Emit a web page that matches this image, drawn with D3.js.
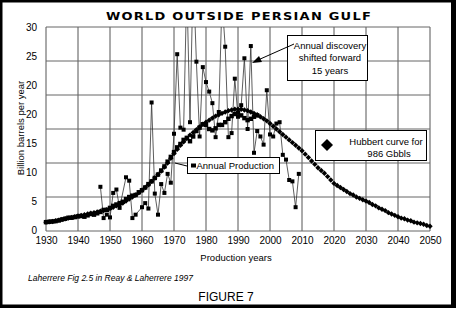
<!DOCTYPE html>
<html>
<head>
<meta charset="utf-8">
<script src="https://cdn.jsdelivr.net/npm/d3@7"></script>
<style>
  body { margin: 0; background: #fff; }
  text { font-family: "Liberation Sans", Arial, sans-serif; fill: #000; }
</style>
</head>
<body>
<div id="svg-chart"></div>
<script>
// Hubbert curve, one value per year 1930..2050 (Gb/yr)
var hubbertStart = 1930;
var hubbertValues = [
  1.3, 1.35, 1.4, 1.5, 1.6, 1.7, 1.8, 1.9, 2.0, 2.1,
  2.2, 2.3, 2.4, 2.5, 2.6, 2.7, 2.8, 2.9, 3.0, 3.15,
  3.3, 3.5, 3.7, 3.9, 4.1, 4.4, 4.7, 5.0, 5.3, 5.6,
  6.0, 6.4, 6.8, 7.3, 7.8, 8.3, 8.8, 9.4, 10.0, 10.7,
  11.4, 12.0, 12.6, 13.1, 13.6, 14.1, 14.5, 14.9, 15.3, 15.7,
  16.0, 16.3, 16.6, 16.9, 17.1, 17.3, 17.5, 17.7, 17.8, 17.9,
  17.9, 17.9, 17.8, 17.7, 17.5, 17.3, 17.1, 16.8, 16.5, 16.2,
  15.8, 15.4, 15.0, 14.6, 14.2, 13.8, 13.4, 13.0, 12.6, 12.2,
  11.8, 11.3, 10.8, 10.3, 9.8, 9.3, 8.9, 8.5, 8.0, 7.5,
  7.0, 6.7, 6.4, 6.1, 5.8, 5.5, 5.3, 5.0, 4.8, 4.6,
  4.4, 4.2, 3.9, 3.7, 3.4, 3.2, 3.0, 2.7, 2.5, 2.3,
  2.1, 1.9, 1.8, 1.6, 1.5, 1.3, 1.2, 1.1, 1.0, 0.8,
  0.7
];

// Annual production, 1930..1996
var prodStart = 1930;
var prodValues = [
  1.3, 1.35, 1.4, 1.45, 1.55, 1.7, 1.8, 1.95, 1.95, 2.05,
  2.15, 2.2, 2.1, 2.3, 2.5, 2.4, 2.6, 2.8, 3.1, 3.1,
  3.4, 3.7, 3.9, 4.1, 4.3, 4.7, 5.0, 5.2, 5.3, 5.7,
  6.0, 6.4, 6.9, 7.3, 7.8, 8.3, 8.9, 9.5, 10.2, 10.9,
  11.6, 12.3, 12.8, 13.4, 13.7, 13.2, 13.9, 14.7, 15.2, 15.7,
  15.6, 15.0, 14.8, 15.1, 15.6, 15.6, 16.0, 16.5, 16.9, 17.2,
  17.4, 17.0, 16.6, 16.3, 16.5, 16.8, 17.0
];

// Annual discovery shifted forward 15 years
var discYears = [
  1947, 1948, 1949, 1950, 1951, 1952, 1953, 1955, 1956, 1957,
  1958, 1960, 1961, 1962, 1963, 1964, 1965, 1966, 1967, 1968,
  1969, 1970, 1971, 1972, 1973, 1974, 1975, 1976, 1977, 1978,
  1979, 1980, 1981, 1982, 1983, 1984, 1985, 1986, 1987, 1988,
  1989, 1990, 1991, 1992, 1993, 1994, 1995, 1996, 1997, 1998,
  1999, 2000, 2001, 2002, 2003, 2004, 2005, 2006, 2007, 2008,
  2009
];
var discValues = [
  6.5, 1.9, 2.4, 2.0, 5.6, 6.1, 3.4, 7.9, 7.4, 1.9,
  2.4, 3.5, 4.1, 3.3, 18.9, 5.5, 2.4, 6.9, 5.6, 8.4,
  7.1, 14.3, 26.0, 15.2, 14.9, 36, 16.0, 38, 24.9, 13.9,
  24.1, 21.9, 20.5, 18.8, 13.8, 17.5, 34, 27.1, 13.8, 14.4,
  22.4, 16.8, 18.5, 25.4, 15.0, 27.2, 11.5, 14.7, 13.9, 12.7,
  20.7, 14.2, 13.9, 15.8, 16.0, 11.2, 10.5, 7.5, 7.3, 3.5,
  8.4
];

var xTicks = [1930, 1940, 1950, 1960, 1970, 1980, 1990, 2000, 2010, 2020, 2030, 2040, 2050];
var yGrid = [0, 5, 10, 15, 20, 25, 30];
// tick labels as printed on the figure (the "20" really appears twice)
var yTickLabels = ["30", "25", "20", "20", "15", "10", "5", "0"];

var svgWidth = 465;
var svgHeight = 309;
var chartMargin = { top: 27, left: 46 };
var chartWidth = 384;
var chartHeight = 204;

var svg = d3.select("#svg-chart")
  .append("svg")
  .attr("width", svgWidth)
  .attr("height", svgHeight);

// frame
svg.append("rect").attr("x", 0).attr("y", 0).attr("width", 456).attr("height", 308).attr("fill", "#000");
svg.append("rect").attr("x", 2.5).attr("y", 2.5).attr("width", 448.5).attr("height", 302).attr("fill", "#fff");

svg.append("text")
  .attr("x", 239)
  .attr("y", 20)
  .attr("text-anchor", "middle")
  .attr("textLength", 266)
  .attr("lengthAdjust", "spacingAndGlyphs")
  .style("font-family", "DejaVu Sans, sans-serif")
  .style("font-size", "10.5px")
  .style("font-weight", "bold")
  .style("letter-spacing", "1px")
  .text("WORLD OUTSIDE PERSIAN GULF");

var chartGroup = svg.append("g")
  .attr("transform", `translate(${chartMargin.left}, ${chartMargin.top})`);

var xScale = d3.scaleLinear().domain([1930, 2050]).range([0, chartWidth]);
var yScale = d3.scaleLinear().domain([0, 30]).range([chartHeight, 0]);

// grid
chartGroup.selectAll(".vgrid")
  .data(xTicks)
  .enter()
  .append("line")
  .attr("x1", d => xScale(d)).attr("x2", d => xScale(d))
  .attr("y1", 0).attr("y2", chartHeight)
  .attr("stroke", "#555")
  .attr("stroke-width", 1);

chartGroup.selectAll(".hgrid")
  .data(yGrid)
  .enter()
  .append("line")
  .attr("x1", 0).attr("x2", chartWidth)
  .attr("y1", d => yScale(d)).attr("y2", d => yScale(d))
  .attr("stroke", "#666")
  .attr("stroke-width", 1);

// axes
var xAxis = d3.axisBottom(xScale).tickValues(xTicks).tickSize(0).tickPadding(6).tickFormat(d3.format("d"));
var xg = chartGroup.append("g")
  .attr("transform", `translate(0, ${chartHeight})`)
  .call(xAxis);
xg.select(".domain").remove();
xg.selectAll("text").style("font-size", "10px").style("font-family", "Liberation Sans, Arial, sans-serif");

var labelScale = d3.scalePoint().domain(d3.range(yTickLabels.length)).range([0, chartHeight - 1]);
var yAxis = d3.axisLeft(labelScale).tickSize(0).tickPadding(9).tickFormat(i => yTickLabels[i]);
var yg = chartGroup.append("g").call(yAxis);
yg.select(".domain").remove();
yg.selectAll("text").style("font-size", "10px").style("font-family", "Liberation Sans, Arial, sans-serif");

// axis titles
svg.append("text")
  .attr("transform", "rotate(-90)")
  .attr("x", -128)
  .attr("y", 24)
  .attr("text-anchor", "middle")
  .style("font-size", "9.5px")
  .text("Billion barrels per year");

svg.append("text")
  .attr("x", 236)
  .attr("y", 261)
  .attr("text-anchor", "middle")
  .style("font-size", "9.5px")
  .text("Production years");

svg.append("text")
  .attr("x", 28)
  .attr("y", 281)
  .style("font-size", "8.5px")
  .style("font-style", "italic")
  .text("Laherrere Fig 2.5 in Reay & Laherrere 1997");

svg.append("text")
  .attr("x", 226)
  .attr("y", 301)
  .attr("text-anchor", "middle")
  .style("font-size", "12px")
  .text("FIGURE 7");

// clip so the discovery spikes stop at 30
chartGroup.append("clipPath").attr("id", "plotclip")
  .append("rect").attr("x", -3).attr("y", 0).attr("width", chartWidth + 6).attr("height", chartHeight + 3);

var plot = chartGroup.append("g").attr("clip-path", "url(#plotclip)");

// discovery series
var discData = discYears.map((y, i) => ({ year: y, value: discValues[i] }));
var discLine = d3.line().x(d => xScale(d.year)).y(d => yScale(d.value));
plot.append("path")
  .datum(discData)
  .attr("d", discLine)
  .attr("fill", "none")
  .attr("stroke", "#333")
  .attr("stroke-width", 0.8);
plot.selectAll(".disc")
  .data(discData)
  .enter()
  .append("rect")
  .attr("x", d => xScale(d.year) - 2)
  .attr("y", d => yScale(d.value) - 2)
  .attr("width", 4).attr("height", 4)
  .attr("fill", "#000");

// annual production
var prodData = prodValues.map((v, i) => ({ year: prodStart + i, value: v }));
plot.append("path")
  .datum(prodData)
  .attr("d", discLine)
  .attr("fill", "none")
  .attr("stroke", "#000")
  .attr("stroke-width", 1);
plot.selectAll(".prod")
  .data(prodData)
  .enter()
  .append("rect")
  .attr("x", d => xScale(d.year) - 2.2)
  .attr("y", d => yScale(d.value) - 2.2)
  .attr("width", 4.4).attr("height", 4.4)
  .attr("fill", "#000");

// hubbert diamonds
var hubData = hubbertValues.map((v, i) => ({ year: hubbertStart + i, value: v }));
plot.selectAll(".hub")
  .data(hubData)
  .enter()
  .append("path")
  .attr("transform", d => `translate(${xScale(d.year)}, ${yScale(d.value)})`)
  .attr("d", "M0,-2.7L2.7,0L0,2.7L-2.7,0Z")
  .attr("fill", "#000");

// legend: discovery
svg.append("line")
  .attr("x1", 294).attr("y1", 44).attr("x2", 258).attr("y2", 60)
  .attr("stroke", "#000").attr("stroke-width", 1);
svg.append("path")
  .attr("d", "M252,63L259,56L262,62Z")
  .attr("fill", "#000");
svg.append("rect")
  .attr("x", 287.5).attr("y", 35.5).attr("width", 80).attr("height", 45)
  .attr("fill", "#fff").attr("stroke", "#000");
svg.append("line")
  .attr("x1", 287.5).attr("y1", 47).attr("x2", 294).attr("y2", 44)
  .attr("stroke", "#000").attr("stroke-width", 1);
var discLabel = ["Annual discovery", "shifted forward", "15 years"];
svg.selectAll(".dl")
  .data(discLabel)
  .enter()
  .append("text")
  .attr("x", 330)
  .attr("y", (d, i) => 48.5 + i * 12.5)
  .attr("text-anchor", "middle")
  .style("font-size", "9.5px")
  .text(d => d);

// legend: annual production
svg.append("line")
  .attr("x1", 175).attr("y1", 163).attr("x2", 187).attr("y2", 166)
  .attr("stroke", "#000").attr("stroke-width", 1);
svg.append("rect")
  .attr("x", 187.5).attr("y", 157.5).attr("width", 92).attr("height", 16)
  .attr("fill", "#fff").attr("stroke", "#000");
svg.append("rect")
  .attr("x", 191).attr("y", 163.5).attr("width", 5).attr("height", 4).attr("fill", "#000");
svg.append("text")
  .attr("x", 196.5).attr("y", 169)
  .style("font-size", "9.5px")
  .text("Annual Production");

// legend: hubbert
svg.append("rect")
  .attr("x", 315.5).attr("y", 130.5).attr("width", 111).attr("height", 30)
  .attr("fill", "#fff").attr("stroke", "#000");
svg.append("path")
  .attr("d", "M327,139L333,145L327,151L321,145Z")
  .attr("fill", "#000");
svg.append("text")
  .attr("x", 386).attr("y", 145)
  .attr("text-anchor", "middle")
  .style("font-size", "9.5px")
  .text("Hubbert curve for");
svg.append("text")
  .attr("x", 389).attr("y", 157)
  .attr("text-anchor", "middle")
  .style("font-size", "9.5px")
  .text("986 Gbbls");
</script>
</body>
</html>
